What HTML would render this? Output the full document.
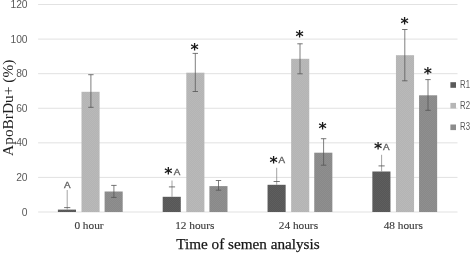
<!DOCTYPE html>
<html lang="en"><head><meta charset="utf-8"><title>ApoBrDu+ (%) by time of semen analysis</title>
<style>html,body{margin:0;padding:0;background:#fff}svg{display:block}.s{font-family:"Liberation Sans",sans-serif;fill:#595959}.t{font-family:"Liberation Serif",serif;fill:#161616;stroke:#161616;stroke-width:0.25px}.x{font-family:"Liberation Serif",serif;fill:#3c3c3c;font-size:11.3px;stroke:#3c3c3c;stroke-width:0.15px}.a{font-family:"DejaVu Sans",sans-serif;font-weight:bold;fill:#1a1a1a;font-size:15.6px;text-anchor:middle}.l{font-family:"Liberation Sans",sans-serif;fill:#5f5f5f;font-size:9.8px;stroke:#5f5f5f;stroke-width:0.35px}</style></head><body>
<svg width="472" height="253" viewBox="0 0 472 253">
<rect width="472" height="253" fill="#fff"/>
<defs>
<pattern id="p1" width="2" height="2" patternUnits="userSpaceOnUse"><rect width="2" height="2" fill="#575757"/><rect width="1" height="1" fill="#5e5e5e"/><rect x="1" y="1" width="1" height="1" fill="#5e5e5e"/></pattern>
<pattern id="p2" width="2" height="2" patternUnits="userSpaceOnUse"><rect width="2" height="2" fill="#b4b4b4"/><rect width="1" height="1" fill="#b9b9b9"/><rect x="1" y="1" width="1" height="1" fill="#b9b9b9"/></pattern>
<pattern id="p3" width="2" height="2" patternUnits="userSpaceOnUse"><rect width="2" height="2" fill="#898989"/><rect width="1" height="1" fill="#8f8f8f"/><rect x="1" y="1" width="1" height="1" fill="#8f8f8f"/></pattern>
</defs>
<line x1="38.1" x2="457.5" y1="212.00" y2="212.00" stroke="#d9d9d9" stroke-width="0.8"/>
<line x1="38.1" x2="457.5" y1="177.42" y2="177.42" stroke="#d9d9d9" stroke-width="0.8"/>
<line x1="38.1" x2="457.5" y1="142.84" y2="142.84" stroke="#d9d9d9" stroke-width="0.8"/>
<line x1="38.1" x2="457.5" y1="108.26" y2="108.26" stroke="#d9d9d9" stroke-width="0.8"/>
<line x1="38.1" x2="457.5" y1="73.68" y2="73.68" stroke="#d9d9d9" stroke-width="0.8"/>
<line x1="38.1" x2="457.5" y1="39.10" y2="39.10" stroke="#d9d9d9" stroke-width="0.8"/>
<line x1="38.1" x2="457.5" y1="4.52" y2="4.52" stroke="#d9d9d9" stroke-width="0.8"/>
<text class="s" x="27.6" y="215.50" font-size="10.3" text-anchor="end">0</text>
<text class="s" x="27.6" y="180.92" font-size="10.3" text-anchor="end">20</text>
<text class="s" x="27.6" y="146.34" font-size="10.3" text-anchor="end">40</text>
<text class="s" x="27.6" y="111.76" font-size="10.3" text-anchor="end">60</text>
<text class="s" x="27.6" y="77.18" font-size="10.3" text-anchor="end">80</text>
<text class="s" x="27.6" y="42.60" font-size="10.3" text-anchor="end">100</text>
<text class="s" x="27.6" y="8.02" font-size="10.3" text-anchor="end">120</text>
<rect x="57.90" y="209.60" width="18.10" height="2.40" fill="url(#p1)"/>
<rect x="81.50" y="91.80" width="18.10" height="120.20" fill="url(#p2)"/>
<rect x="104.60" y="191.50" width="18.10" height="20.50" fill="url(#p3)"/>
<rect x="162.70" y="196.80" width="18.10" height="15.20" fill="url(#p1)"/>
<rect x="186.30" y="72.70" width="18.10" height="139.30" fill="url(#p2)"/>
<rect x="209.40" y="186.10" width="18.10" height="25.90" fill="url(#p3)"/>
<rect x="267.55" y="184.80" width="18.10" height="27.20" fill="url(#p1)"/>
<rect x="291.15" y="58.80" width="18.10" height="153.20" fill="url(#p2)"/>
<rect x="314.25" y="152.70" width="18.10" height="59.30" fill="url(#p3)"/>
<rect x="372.35" y="171.50" width="18.10" height="40.50" fill="url(#p1)"/>
<rect x="395.95" y="55.20" width="18.10" height="156.80" fill="url(#p2)"/>
<rect x="419.05" y="95.30" width="18.10" height="116.70" fill="url(#p3)"/>
<line x1="67.20" x2="67.20" y1="190.00" y2="209.60" stroke="#7d7d7d" stroke-width="0.70"/>
<line x1="64.10" x2="70.30" y1="207.60" y2="207.60" stroke="#545454" stroke-width="0.8"/>
<line x1="90.90" x2="90.90" y1="74.70" y2="107.30" stroke="#545454" stroke-width="0.75"/>
<line x1="88.20" x2="93.60" y1="74.70" y2="74.70" stroke="#545454" stroke-width="0.8"/>
<line x1="88.20" x2="93.60" y1="107.30" y2="107.30" stroke="#545454" stroke-width="0.8"/>
<line x1="113.90" x2="113.90" y1="185.40" y2="197.40" stroke="#545454" stroke-width="0.75"/>
<line x1="111.20" x2="116.60" y1="185.40" y2="185.40" stroke="#545454" stroke-width="0.8"/>
<line x1="111.20" x2="116.60" y1="197.40" y2="197.40" stroke="#545454" stroke-width="0.8"/>
<line x1="172.00" x2="172.00" y1="180.50" y2="196.80" stroke="#7d7d7d" stroke-width="0.70"/>
<line x1="168.90" x2="175.10" y1="186.90" y2="186.90" stroke="#545454" stroke-width="0.8"/>
<line x1="195.30" x2="195.30" y1="53.40" y2="91.50" stroke="#545454" stroke-width="0.75"/>
<line x1="192.60" x2="198.00" y1="53.40" y2="53.40" stroke="#545454" stroke-width="0.8"/>
<line x1="192.60" x2="198.00" y1="91.50" y2="91.50" stroke="#545454" stroke-width="0.8"/>
<line x1="218.50" x2="218.50" y1="180.50" y2="190.20" stroke="#545454" stroke-width="0.75"/>
<line x1="215.80" x2="221.20" y1="180.50" y2="180.50" stroke="#545454" stroke-width="0.8"/>
<line x1="215.80" x2="221.20" y1="190.20" y2="190.20" stroke="#545454" stroke-width="0.8"/>
<line x1="276.70" x2="276.70" y1="167.80" y2="184.80" stroke="#7d7d7d" stroke-width="0.70"/>
<line x1="273.60" x2="279.80" y1="181.50" y2="181.50" stroke="#545454" stroke-width="0.8"/>
<line x1="300.00" x2="300.00" y1="43.80" y2="73.80" stroke="#545454" stroke-width="0.75"/>
<line x1="297.30" x2="302.70" y1="43.80" y2="43.80" stroke="#545454" stroke-width="0.8"/>
<line x1="297.30" x2="302.70" y1="73.80" y2="73.80" stroke="#545454" stroke-width="0.8"/>
<line x1="323.60" x2="323.60" y1="138.70" y2="165.20" stroke="#545454" stroke-width="0.75"/>
<line x1="320.90" x2="326.30" y1="138.70" y2="138.70" stroke="#545454" stroke-width="0.8"/>
<line x1="320.90" x2="326.30" y1="165.20" y2="165.20" stroke="#545454" stroke-width="0.8"/>
<line x1="381.60" x2="381.60" y1="154.80" y2="171.50" stroke="#7d7d7d" stroke-width="0.70"/>
<line x1="378.50" x2="384.70" y1="165.90" y2="165.90" stroke="#545454" stroke-width="0.8"/>
<line x1="404.80" x2="404.80" y1="29.50" y2="80.80" stroke="#545454" stroke-width="0.75"/>
<line x1="402.10" x2="407.50" y1="29.50" y2="29.50" stroke="#545454" stroke-width="0.8"/>
<line x1="402.10" x2="407.50" y1="80.80" y2="80.80" stroke="#545454" stroke-width="0.8"/>
<line x1="428.00" x2="428.00" y1="79.60" y2="110.30" stroke="#545454" stroke-width="0.75"/>
<line x1="425.30" x2="430.70" y1="79.60" y2="79.60" stroke="#545454" stroke-width="0.8"/>
<line x1="425.30" x2="430.70" y1="110.30" y2="110.30" stroke="#545454" stroke-width="0.8"/>
<text class="a" x="194.70" y="54.80">*</text>
<text class="a" x="299.60" y="41.70">*</text>
<text class="a" x="322.70" y="134.10">*</text>
<text class="a" x="404.60" y="29.20">*</text>
<text class="a" x="427.80" y="78.80">*</text>
<text class="a" x="168.35" y="179.10">*</text>
<text class="a" x="273.65" y="167.50">*</text>
<text class="a" x="378.05" y="154.30">*</text>
<text class="l" x="64.00" y="187.60">A</text>
<text class="l" x="173.80" y="174.80">A</text>
<text class="l" x="278.40" y="163.20">A</text>
<text class="l" x="383.00" y="149.90">A</text>
<text class="x" x="74.40" y="228.8">0 hour</text>
<text class="x" x="175.20" y="228.8">12 hours</text>
<text class="x" x="278.80" y="228.8">24 hours</text>
<text class="x" x="383.70" y="228.8">48 hours</text>
<text class="t" x="176.3" y="248.7" font-size="15.2">Time of semen analysis</text>
<text class="t" style="stroke:none;fill:#222" transform="translate(12.5,155.9) rotate(-90)" font-size="15.4">ApoBrDu+ (%)</text>
<rect x="450.4" y="82.20" width="5.6" height="5.6" fill="#5a5a5a"/>
<text class="s" x="460.1" y="87.80" font-size="10.6" textLength="10" lengthAdjust="spacingAndGlyphs">R1</text>
<rect x="450.4" y="102.90" width="5.6" height="5.6" fill="#b6b6b6"/>
<text class="s" x="460.1" y="108.50" font-size="10.6" textLength="10" lengthAdjust="spacingAndGlyphs">R2</text>
<rect x="450.4" y="124.50" width="5.6" height="5.6" fill="#8c8c8c"/>
<text class="s" x="460.1" y="130.10" font-size="10.6" textLength="10" lengthAdjust="spacingAndGlyphs">R3</text>
</svg></body></html>
